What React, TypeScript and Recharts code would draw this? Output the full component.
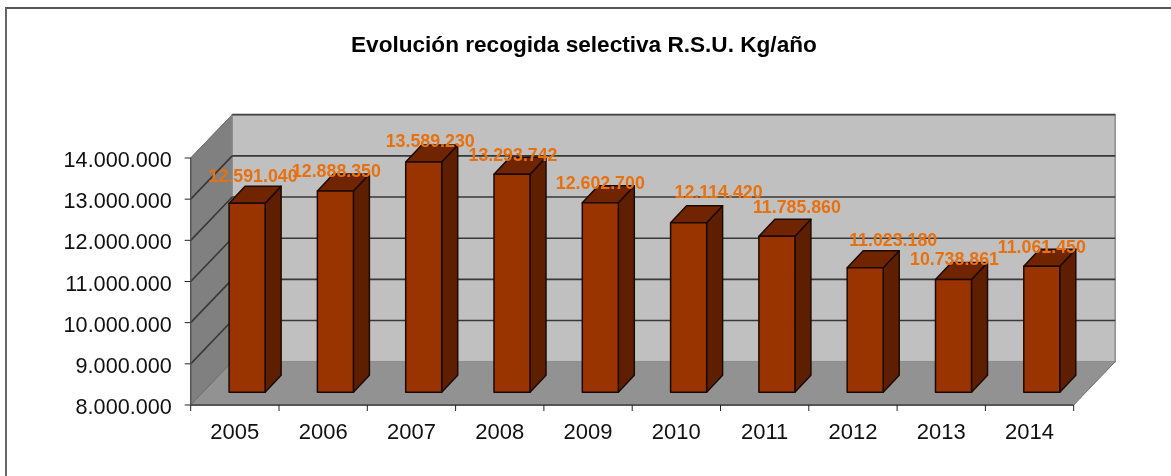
import React from "react";
import { ComposedChart, Bar, XAxis, YAxis, Customized, LabelList, usePlotArea } from "recharts";

const years = ["2005", "2006", "2007", "2008", "2009", "2010", "2011", "2012", "2013", "2014"];
const kilos = [12591040, 12888350, 13589230, 13293742, 12602700, 12114420, 11785860, 11023180, 10738861, 11061450];
const yTicks = [8000000, 9000000, 10000000, 11000000, 12000000, 13000000, 14000000];
const title = "Evolución recogida selectiva R.S.U. Kg/año";

// Excel hand-moved label offsets from the bar-top centre (layout, not data)
const labelDx = [6, 1, 6.5, 1, 0, 30, 20, 28, 1, 0];
const labelDy = [-21, -14, -15.5, -13.5, -13.5, -24.6, -23, -22, -14, -13.5];

const rows = years.map((year, i) => ({ year, kilos: kilos[i], i }));

const W = 1171, H = 476;
const Y_AXIS_W = 180, X_AXIS_H = 40;
const M = { top: 158, left: 190.7 - Y_AXIS_W, right: W - 1073.7, bottom: H - 405 - X_AXIS_H };
const DEPTH_X = 41.5, DEPTH_Y = 43.3;        // wall depth
const BAR_X = 12.4, BAR_Y = 12.8;            // bars stand this far back from the front edge
const SIDE_X = 16, SIDE_Y = 17;              // bar depth

const fmt = (v: number) => String(v).replace(/\B(?=(\d{3})+(?!\d))/g, ".");

function Bar3D(props: any) {
  const { x, y, width, height } = props;
  const l = x + BAR_X, r = l + width, t = y - BAR_Y, b = t + height;
  const s = { stroke: "#1c0a00", strokeWidth: 1.5, strokeLinejoin: "round" as const };
  return (
    <g>
      <polygon points={`${r},${t} ${r + SIDE_X},${t - SIDE_Y} ${r + SIDE_X},${b - SIDE_Y} ${r},${b}`} fill="#5e1f00" {...s} />
      <polygon points={`${l},${t} ${l + SIDE_X},${t - SIDE_Y} ${r + SIDE_X},${t - SIDE_Y} ${r},${t}`} fill="#702500" {...s} />
      <rect x={l} y={t} width={width} height={height} fill="#993300" {...s} />
    </g>
  );
}

function Walls() {
  const p = usePlotArea();
  if (!p) return null;
  const { x: l, y: t, width: w, height: h } = p;
  const r = l + w, b = t + h;
  const step = h / (yTicks.length - 1);
  const grid = yTicks.map((_, i) => t + i * step);
  const catStep = w / years.length;
  return (
    <g>
      <polygon points={`${l},${t} ${l + DEPTH_X},${t - DEPTH_Y} ${l + DEPTH_X},${b - DEPTH_Y} ${l},${b}`} fill="#808080" stroke="#6a6a6a" strokeWidth={1} />
      <rect x={l + DEPTH_X} y={t - DEPTH_Y} width={w} height={h} fill="#c0c0c0" stroke="#8c8c8c" strokeWidth={1.5} />
      <polygon points={`${l},${b} ${l + DEPTH_X},${b - DEPTH_Y} ${r + DEPTH_X},${b - DEPTH_Y} ${r},${b}`} fill="#929292" />
      <line x1={l} y1={b} x2={l + DEPTH_X} y2={b - DEPTH_Y} stroke="#6f6f6f" />
      <line x1={r} y1={b} x2={r + DEPTH_X} y2={b - DEPTH_Y} stroke="#6f6f6f" />
      <line x1={l + DEPTH_X} y1={t - DEPTH_Y} x2={r + DEPTH_X} y2={t - DEPTH_Y} stroke="#444" strokeWidth={1.8} />
      {grid.slice(1, -1).map((gy, i) => (
        <g key={i} stroke="#383838" strokeWidth={1.6}>
          <line x1={l} y1={gy} x2={l + DEPTH_X} y2={gy - DEPTH_Y} />
          <line x1={l + DEPTH_X} y1={gy - DEPTH_Y} x2={r + DEPTH_X} y2={gy - DEPTH_Y} />
        </g>
      ))}
      <line x1={l} y1={t} x2={l + DEPTH_X} y2={t - DEPTH_Y} stroke="#777" />
      <line x1={l} y1={t} x2={l} y2={b} stroke="#555" strokeWidth={1.4} />
      <line x1={l} y1={b} x2={r} y2={b} stroke="#555" strokeWidth={2} />
      {years.concat("").map((_, i) => (
        <line key={i} x1={l + i * catStep} y1={b} x2={l + i * catStep} y2={b + 6} stroke="#222" />
      ))}
    </g>
  );
}

function DataLabel(props: any) {
  const { x, y, width, index } = props;
  return (
    <text x={x + width / 2 + BAR_X + labelDx[index]} y={y - BAR_Y + labelDy[index]} textAnchor="middle"
      fontFamily="Liberation Sans" fontWeight="bold" fontSize={17.8} fill="#e8710f">
      {fmt(kilos[index])}
    </text>
  );
}

const font = { fontFamily: "Liberation Sans", fill: "#111" };

function YTick(props: any) {
  return <text x={props.x - 13} y={props.y + 9} textAnchor="end" fontSize={21.6} {...font}>{fmt(props.payload.value)}</text>;
}
function XTick(props: any) {
  return <text x={props.x} y={405 + 34} textAnchor="middle" fontSize={22} {...font}>{props.payload.value}</text>;
}

export default function App() {
  return (
    <div style={{ position: "absolute", left: 0, top: 0, width: W, height: H, background: "#fff", overflow: "hidden", filter: "blur(0.35px)" }}>
      <div style={{ position: "absolute", left: 5, top: 7, width: 1200, height: 500, borderLeft: "2px solid #666", borderTop: "2px solid #555" }} />
      <div style={{ position: "absolute", left: 351, top: 32, whiteSpace: "nowrap", font: "bold 22.6px 'Liberation Sans'", color: "#000" }}>
        {title}
      </div>
      <div style={{ position: "absolute", left: 0, top: 0 }}>
        <ComposedChart width={W} height={H} data={rows} margin={M}>
          <Customized component={Walls} />
          <XAxis dataKey="year" height={X_AXIS_H} interval={0} tickLine={false} axisLine={false} tick={<XTick />} />
          <YAxis domain={[8000000, 14000000]} ticks={yTicks} width={Y_AXIS_W} interval={0} tickLine={{ stroke: "#222" }} tickSize={6} tickMargin={0} axisLine={false} tick={<YTick />} />
          <Bar dataKey="kilos" barSize={36} shape={<Bar3D />} isAnimationActive={false}>
            <LabelList dataKey="kilos" content={<DataLabel />} />
          </Bar>
        </ComposedChart>
      </div>
    </div>
  );
}
